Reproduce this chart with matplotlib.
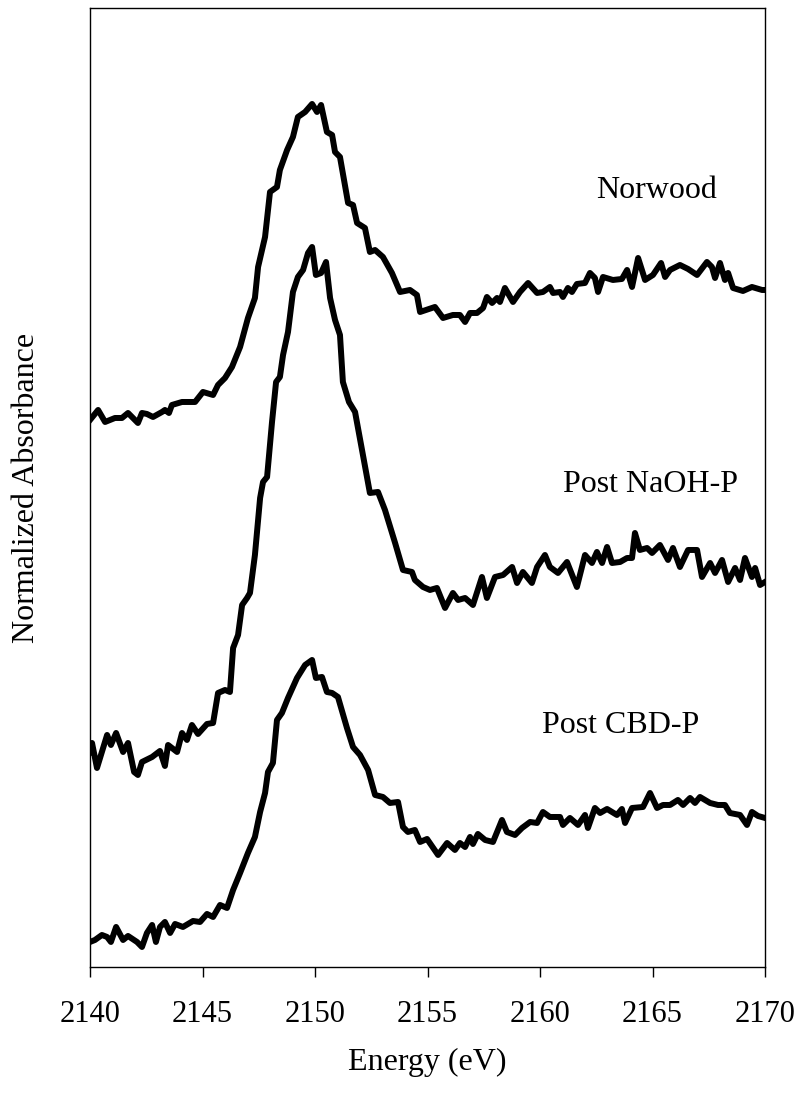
import numpy as np
import matplotlib
matplotlib.use("Agg")
import matplotlib.pyplot as plt

plt.rcParams['font.family'] = ['Liberation Serif', 'DejaVu Serif']

## Norwood (curva de cima)
e_norwood = [2140.00, 2140.36, 2140.67, 2141.11, 2141.42, 2141.69, 2142.13, 2142.31, 2142.53, 2142.80,
             2143.20, 2143.33, 2143.51, 2143.64, 2144.09, 2144.67, 2145.02, 2145.47, 2145.69, 2146.00,
             2146.31, 2146.67, 2147.02, 2147.33, 2147.47, 2147.78, 2148.00, 2148.31, 2148.44, 2148.76,
             2149.02, 2149.24, 2149.56, 2149.87, 2150.09, 2150.27, 2150.53, 2150.76, 2150.89, 2151.11,
             2151.47, 2151.69, 2151.87, 2152.22, 2152.44, 2152.67, 2153.02, 2153.42, 2153.78, 2154.22,
             2154.53, 2154.67, 2155.33, 2155.69, 2156.13, 2156.44, 2156.67, 2156.89, 2157.20, 2157.47,
             2157.64, 2157.87, 2158.09, 2158.22, 2158.44, 2158.80, 2159.11, 2159.47, 2159.87, 2160.13,
             2160.44, 2160.58, 2160.89, 2161.02, 2161.24, 2161.42, 2161.64, 2162.00, 2162.22, 2162.44,
             2162.58, 2162.80, 2163.24, 2163.64, 2163.87, 2164.09, 2164.36, 2164.67, 2165.02, 2165.38,
             2165.56, 2165.78, 2166.22, 2166.58, 2166.98, 2167.42, 2167.64, 2167.78, 2168.00, 2168.22,
             2168.36, 2168.58, 2169.02, 2169.42, 2169.87, 2170.00]
a_norwood = [5.47, 5.57, 5.45, 5.49, 5.49, 5.54, 5.44, 5.54, 5.53, 5.50,
             5.55, 5.57, 5.54, 5.62, 5.65, 5.65, 5.75, 5.72, 5.82, 5.89,
             6.00, 6.20, 6.49, 6.69, 7.00, 7.30, 7.75, 7.80, 7.97, 8.17,
             8.30, 8.50, 8.55, 8.63, 8.55, 8.62, 8.35, 8.32, 8.15, 8.10,
             7.64, 7.62, 7.44, 7.39, 7.15, 7.17, 7.10, 6.94, 6.75, 6.77,
             6.72, 6.55, 6.60, 6.49, 6.52, 6.52, 6.45, 6.54, 6.54, 6.59,
             6.70, 6.64, 6.69, 6.65, 6.79, 6.65, 6.75, 6.84, 6.74, 6.75,
             6.80, 6.74, 6.75, 6.70, 6.79, 6.75, 6.83, 6.84, 6.94, 6.89,
             6.75, 6.90, 6.87, 6.88, 6.97, 6.80, 7.09, 6.87, 6.92, 7.04,
             6.90, 6.97, 7.02, 6.98, 6.92, 7.05, 7.00, 6.89, 7.04, 6.87,
             6.94, 6.79, 6.76, 6.80, 6.77, 6.77]

## Post NaOH-P (curva do meio)
e_naoh = [2140.00, 2140.09, 2140.31, 2140.76, 2140.93, 2141.16, 2141.47, 2141.69, 2141.96, 2142.13,
          2142.31, 2142.76, 2143.11, 2143.33, 2143.47, 2143.87, 2144.09, 2144.31, 2144.53, 2144.80,
          2145.20, 2145.47, 2145.69, 2146.00, 2146.22, 2146.36, 2146.58, 2146.76, 2146.98, 2147.11,
          2147.33, 2147.56, 2147.69, 2147.87, 2148.09, 2148.27, 2148.44, 2148.58, 2148.80, 2149.02,
          2149.24, 2149.47, 2149.69, 2149.87, 2150.04, 2150.27, 2150.49, 2150.67, 2150.89, 2151.11,
          2151.24, 2151.51, 2151.78, 2152.09, 2152.44, 2152.80, 2153.11, 2153.56, 2153.91, 2154.31,
          2154.44, 2154.80, 2155.11, 2155.42, 2155.78, 2156.13, 2156.36, 2156.67, 2157.02, 2157.42,
          2157.64, 2158.00, 2158.36, 2158.76, 2158.98, 2159.24, 2159.64, 2159.87, 2160.22, 2160.44,
          2160.80, 2161.20, 2161.64, 2162.00, 2162.31, 2162.53, 2162.76, 2162.98, 2163.20, 2163.56,
          2163.87, 2164.09, 2164.22, 2164.44, 2164.76, 2164.98, 2165.33, 2165.69, 2165.91, 2166.22,
          2166.58, 2166.98, 2167.20, 2167.56, 2167.78, 2168.09, 2168.36, 2168.67, 2168.89, 2169.11,
          2169.42, 2169.56, 2169.78, 2170.00]
a_naoh = [2.15, 2.24, 1.99, 2.32, 2.22, 2.34, 2.15, 2.24, 1.95, 1.92,
          2.05, 2.10, 2.16, 2.01, 2.22, 2.15, 2.34, 2.27, 2.42, 2.33,
          2.43, 2.44, 2.74, 2.77, 2.75, 3.19, 3.32, 3.62, 3.69, 3.74,
          4.12, 4.69, 4.85, 4.90, 5.45, 5.85, 5.90, 6.12, 6.35, 6.75,
          6.90, 6.97, 7.14, 7.20, 6.92, 6.94, 7.05, 6.69, 6.47, 6.32,
          5.85, 5.65, 5.55, 5.17, 4.74, 4.75, 4.57, 4.24, 3.97, 3.95,
          3.87, 3.80, 3.77, 3.79, 3.59, 3.74, 3.67, 3.69, 3.62, 3.90,
          3.69, 3.90, 3.92, 4.00, 3.84, 3.95, 3.84, 4.00, 4.12, 4.00,
          3.94, 4.05, 3.80, 4.12, 4.04, 4.15, 4.04, 4.20, 4.04, 4.05,
          4.09, 4.09, 4.34, 4.17, 4.19, 4.14, 4.22, 4.07, 4.19, 4.00,
          4.17, 4.17, 3.90, 4.04, 3.94, 4.07, 3.85, 3.99, 3.87, 4.09,
          3.90, 3.99, 3.82, 3.85]

## Post CBD-P (curva de baixo)
e_cbd = [2140.00, 2140.22, 2140.53, 2140.76, 2140.93, 2141.16, 2141.47, 2141.69, 2142.09, 2142.31,
         2142.53, 2142.76, 2142.93, 2143.11, 2143.33, 2143.56, 2143.78, 2144.13, 2144.58, 2144.89,
         2145.20, 2145.47, 2145.78, 2146.09, 2146.36, 2146.67, 2147.02, 2147.33, 2147.56, 2147.78,
         2147.91, 2148.13, 2148.31, 2148.53, 2148.80, 2149.20, 2149.56, 2149.87, 2150.04, 2150.31,
         2150.53, 2150.76, 2151.02, 2151.42, 2151.69, 2152.00, 2152.36, 2152.67, 2153.02, 2153.33,
         2153.69, 2153.91, 2154.13, 2154.44, 2154.67, 2154.98, 2155.47, 2155.87, 2156.22, 2156.44,
         2156.67, 2156.89, 2157.02, 2157.24, 2157.56, 2157.91, 2158.31, 2158.53, 2158.89, 2159.20,
         2159.56, 2159.87, 2160.13, 2160.44, 2160.89, 2161.02, 2161.33, 2161.69, 2162.00, 2162.13,
         2162.44, 2162.67, 2162.98, 2163.42, 2163.64, 2163.78, 2164.09, 2164.58, 2164.89, 2165.20,
         2165.47, 2165.78, 2166.13, 2166.36, 2166.67, 2166.89, 2167.11, 2167.56, 2167.91, 2168.22,
         2168.44, 2168.89, 2169.20, 2169.42, 2169.69, 2170.00]
a_cbd = [0.25, 0.27, 0.32, 0.30, 0.25, 0.40, 0.27, 0.31, 0.25, 0.20,
         0.34, 0.42, 0.25, 0.40, 0.45, 0.34, 0.43, 0.40, 0.46, 0.45,
         0.53, 0.50, 0.62, 0.59, 0.77, 0.94, 1.14, 1.30, 1.55, 1.74,
         1.95, 2.04, 2.47, 2.54, 2.69, 2.89, 3.02, 3.07, 2.89, 2.90,
         2.75, 2.74, 2.70, 2.39, 2.20, 2.12, 1.97, 1.72, 1.70, 1.64,
         1.65, 1.40, 1.35, 1.37, 1.25, 1.28, 1.12, 1.24, 1.17, 1.24,
         1.20, 1.30, 1.23, 1.33, 1.27, 1.25, 1.47, 1.35, 1.32, 1.39,
         1.45, 1.44, 1.55, 1.50, 1.50, 1.42, 1.49, 1.42, 1.52, 1.39,
         1.59, 1.54, 1.58, 1.52, 1.58, 1.44, 1.59, 1.60, 1.74, 1.59,
         1.62, 1.62, 1.67, 1.62, 1.69, 1.64, 1.70, 1.64, 1.62, 1.62,
         1.54, 1.52, 1.42, 1.55, 1.51, 1.49]

nomes = ['Norwood', 'Post NaOH-P', 'Post CBD-P']
pos_nomes = [(2165.2, 7.69), (2164.9, 4.75), (2163.6, 2.34)] # onde vai cada nome

fig = plt.figure(figsize=(8, 10.93), dpi=100)
ax = fig.add_axes([0.1125, 0.1153, 0.84375, 0.8774])

for e, a in [(e_norwood, a_norwood), (e_naoh, a_naoh), (e_cbd, a_cbd)]:
    ax.plot(e, a, color='black', lw=4.3, solid_joinstyle='round')

for nome, (x, y) in zip(nomes, pos_nomes):
    ax.text(x, y, nome, ha='center', va='baseline', fontsize=23)

ax.set_xlim(2140, 2170)
ax.set_ylim(0, 9.59)
ax.set_xticks(np.arange(2140, 2171, 5))
ax.set_yticks([])
ax.tick_params(axis='x', direction='out', length=7, width=1, labelsize=22, pad=17)
for s in ax.spines.values():
    s.set_linewidth(1)

ax.set_xlabel('Energy (eV)', fontsize=23)
ax.set_ylabel('Normalized Absorbance', fontsize=23)
ax.xaxis.set_label_coords(0.5, -0.084)
ax.yaxis.set_label_coords(-0.073, 0.5)

plt.savefig('out.png', dpi=100)
